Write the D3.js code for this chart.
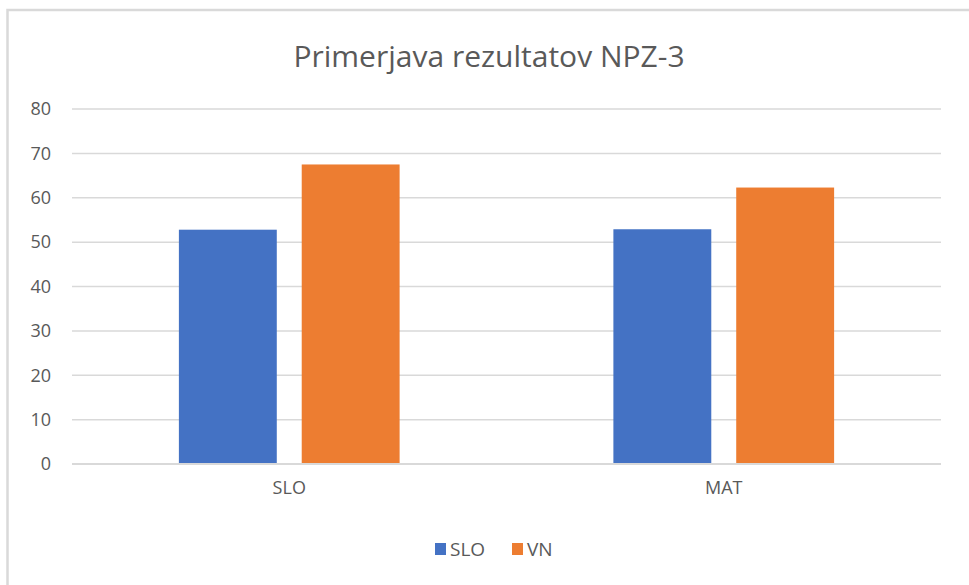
<!DOCTYPE html>
<html>
<head>
<meta charset="utf-8">
<script src="https://cdnjs.cloudflare.com/ajax/libs/d3/7.8.5/d3.min.js"></script>
<style>
    body { margin: 0; background: #fff; }
    text { font-family: "Open Sans", "Noto Sans", sans-serif; fill: #595959; }
</style>
</head>
<body>
<div class="chartdiv"></div>
<script>
// data
const categories = ['SLO', 'MAT']
const seriesNames = ['SLO', 'VN']
const sloValues = [52.8, 52.9]
const vnValues = [67.5, 62.3]
const yTicks = [0, 10, 20, 30, 40, 50, 60, 70, 80]
const colors = ['#4472C4', '#ED7D31']
const title = 'Primerjava rezultatov NPZ-3'

let w = 969, h = 585
let plotLeft = 72, plotRight = 941, plotTop = 109, plotBottom = 464

let dataset = categories.map((c, i) => ({ cat: c, values: [sloValues[i], vnValues[i]] }))

let svg = d3.select('.chartdiv')
    .append('svg')
    .attr('width', w)
    .attr('height', h)

// outer chart frame (cut off at right and bottom)
svg.append('rect')
    .attr('x', 7.5)
    .attr('y', 10)
    .attr('width', w + 20)
    .attr('height', h + 20)
    .attr('fill', 'white')
    .attr('stroke', '#d9d9d9')
    .attr('stroke-width', 2.5)

svg.append('text')
    .attr('x', 489)
    .attr('y', 67)
    .attr('text-anchor', 'middle')
    .style('font-size', '30px')
    .text(title)

////// scales //////
let yScale = d3.scaleLinear()
    .domain([0, 80])
    .range([plotBottom, plotTop])

let x0 = d3.scaleBand()
    .domain(categories)
    .range([plotLeft, plotRight])
    .paddingInner(0.492)
    .paddingOuter(0.246)

let x1 = d3.scaleBand()
    .domain(seriesNames)
    .range([0, x0.bandwidth()])
    .paddingInner(0.203)

// gridlines
svg.append('g')
    .selectAll('line')
    .data(yTicks)
    .enter()
    .append('line')
    .attr('x1', plotLeft)
    .attr('x2', plotRight)
    .attr('y1', d => yScale(d))
    .attr('y2', d => yScale(d))
    .attr('stroke', '#d9d9d9')
    .attr('stroke-width', d => d == 0 ? 2 : 1.5)

// y axis labels
let yAxis = d3.axisLeft(yScale)
    .tickValues(yTicks)
    .tickSize(0)
    .tickPadding(0)
let gy = svg.append('g')
    .attr('transform', 'translate(51,0)')
    .call(yAxis)
gy.select('.domain').remove()
gy.selectAll('text')
    .style('font-size', '18px')
    .style('fill', '#595959')

// bars
svg.append('g')
    .selectAll('g')
    .data(dataset)
    .enter()
    .append('g')
    .attr('transform', d => 'translate(' + x0(d.cat) + ',0)')
    .selectAll('rect')
    .data(d => d.values.map((v, i) => ({ key: seriesNames[i], v: v, i: i })))
    .enter()
    .append('rect')
    .attr('x', d => x1(d.key))
    .attr('width', x1.bandwidth())
    .attr('y', d => yScale(d.v))
    .attr('height', d => yScale(0) - yScale(d.v) - 1)
    .attr('fill', d => colors[d.i])

// x axis labels
let xAxis = d3.axisBottom(x0)
    .tickSize(0)
    .tickPadding(0)
let gx = svg.append('g')
    .attr('transform', 'translate(0,' + (plotBottom + 17) + ')')
    .call(xAxis)
gx.select('.domain').remove()
gx.selectAll('text')
    .style('font-size', '18px')
    .style('fill', '#595959')

// legend
let legendX = [435, 512]
let lg = svg.append('g')
    .selectAll('g')
    .data(seriesNames)
    .enter()
    .append('g')
    .attr('transform', (d, i) => 'translate(' + legendX[i] + ',543)')
lg.append('rect')
    .attr('width', 11)
    .attr('height', 12)
    .attr('fill', (d, i) => colors[i])
lg.append('text')
    .attr('x', 15)
    .attr('y', 13)
    .style('font-size', '19px')
    .text(d => d)
</script>
</body>
</html>
